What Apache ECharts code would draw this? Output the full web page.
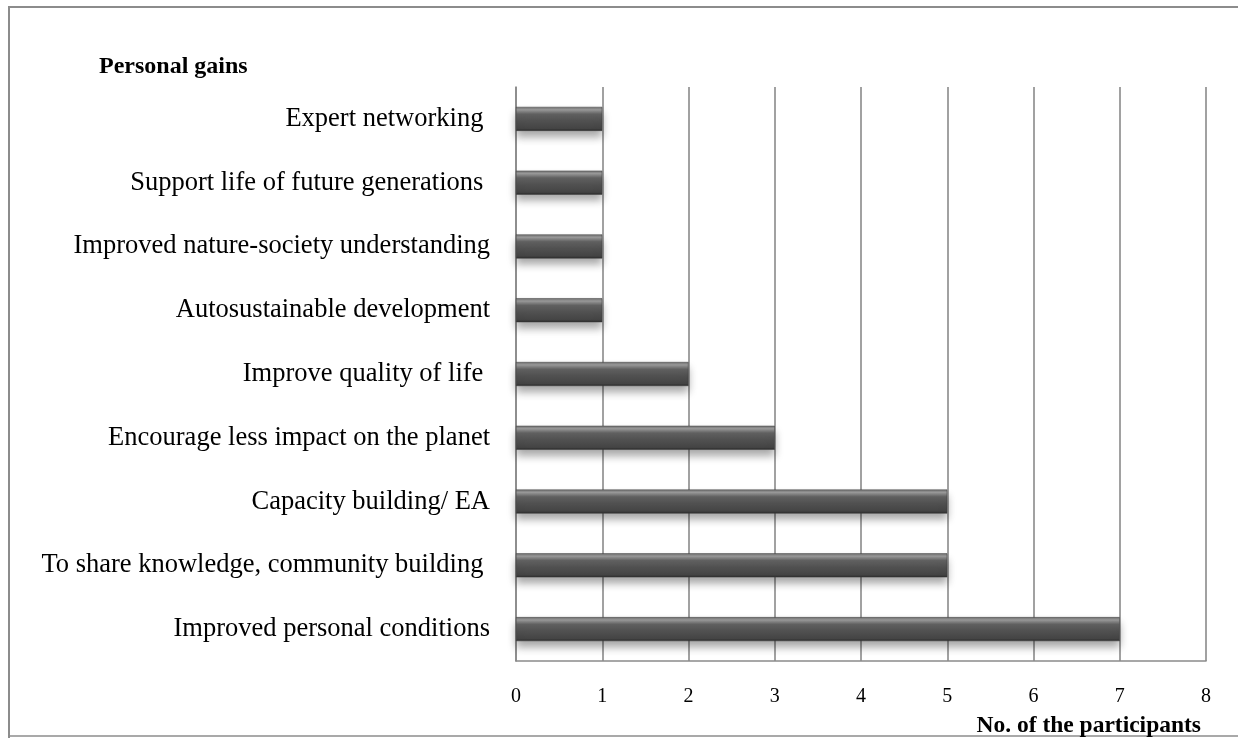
<!DOCTYPE html>
<html>
<head>
<meta charset="utf-8">
<script src="https://cdn.jsdelivr.net/npm/echarts@6/dist/echarts.min.js"></script>
<style>
html,body{margin:0;padding:0;background:#fff;}
#chart{width:1238px;height:738px;}
</style>
</head>
<body>
<div id="chart"></div>
<script>
// Categories listed from top to bottom as in the reference
const categories = [
  "Expert networking ",
  "Support life of future generations ",
  "Improved nature-society understanding",
  "Autosustainable development",
  "Improve quality of life ",
  "Encourage less impact on the planet",
  "Capacity building/ EA",
  "To share knowledge, community building ",
  "Improved personal conditions"
];
const participants = [1, 1, 1, 1, 2, 3, 5, 5, 7];
const xTicks = [0, 1, 2, 3, 4, 5, 6, 7, 8];
const chartTitle = "Personal gains";
const xAxisTitle = "No. of the participants";

const serif = "'Liberation Serif', 'Times New Roman', 'DejaVu Serif', serif";
const chart = echarts.init(document.getElementById('chart'), null, {renderer: 'canvas'});

chart.setOption({
  backgroundColor: '#ffffff',
  animation: false,
  title: [
    {text: chartTitle, left: 94, top: 50,
     textStyle: {fontFamily: serif, fontWeight: 'bold', fontSize: 24, color: '#000'}},
    {text: xAxisTitle, right: 32, top: 709,
     textStyle: {fontFamily: serif, fontWeight: 'bold', fontSize: 23.5, color: '#000'}}
  ],
  graphic: [
    {type: 'polyline', silent: true,
     shape: {points: [[9, 738], [9, 7], [1238, 7]]},
     style: {stroke: '#8c8c8c', lineWidth: 2, fill: null}},
    {type: 'line', silent: true,
     shape: {x1: 9, y1: 736, x2: 1238, y2: 736},
     style: {stroke: '#8c8c8c', lineWidth: 1.5}}
  ],
  grid: {left: 516, right: 32, top: 87, bottom: 77, containLabel: false},
  xAxis: {
    type: 'value', min: xTicks[0], max: xTicks[xTicks.length - 1], interval: 1,
    axisLine: {show: true, lineStyle: {color: '#8a8a8a', width: 1.6}},
    axisTick: {show: false},
    axisLabel: {fontFamily: serif, fontSize: 20, color: '#000', margin: 26},
    splitLine: {show: true, lineStyle: {color: '#8a8a8a', width: 1.6}}
  },
  yAxis: {
    type: 'category', data: categories, inverse: true,
    axisLine: {show: true, lineStyle: {color: '#8a8a8a', width: 1.6}},
    axisTick: {show: false},
    axisLabel: {fontFamily: serif, fontSize: 26.5, color: '#000', margin: 26}
  },
  series: [{
    type: 'bar',
    data: participants,
    barWidth: 24,
    itemStyle: {
      color: new echarts.graphic.LinearGradient(0, 0, 0, 1, [
        {offset: 0, color: '#6e6e6e'},
        {offset: 0.12, color: '#9a9a9a'},
        {offset: 0.3, color: '#626262'},
        {offset: 0.6, color: '#505050'},
        {offset: 0.9, color: '#444444'},
        {offset: 1, color: '#2a2a2a'}
      ]),
      borderColor: '#3c3c3c',
      borderWidth: 0.5,
      shadowColor: 'rgba(0,0,0,0.35)',
      shadowBlur: 8,
      shadowOffsetY: 6
    }
  }]
});
</script>
</body>
</html>
